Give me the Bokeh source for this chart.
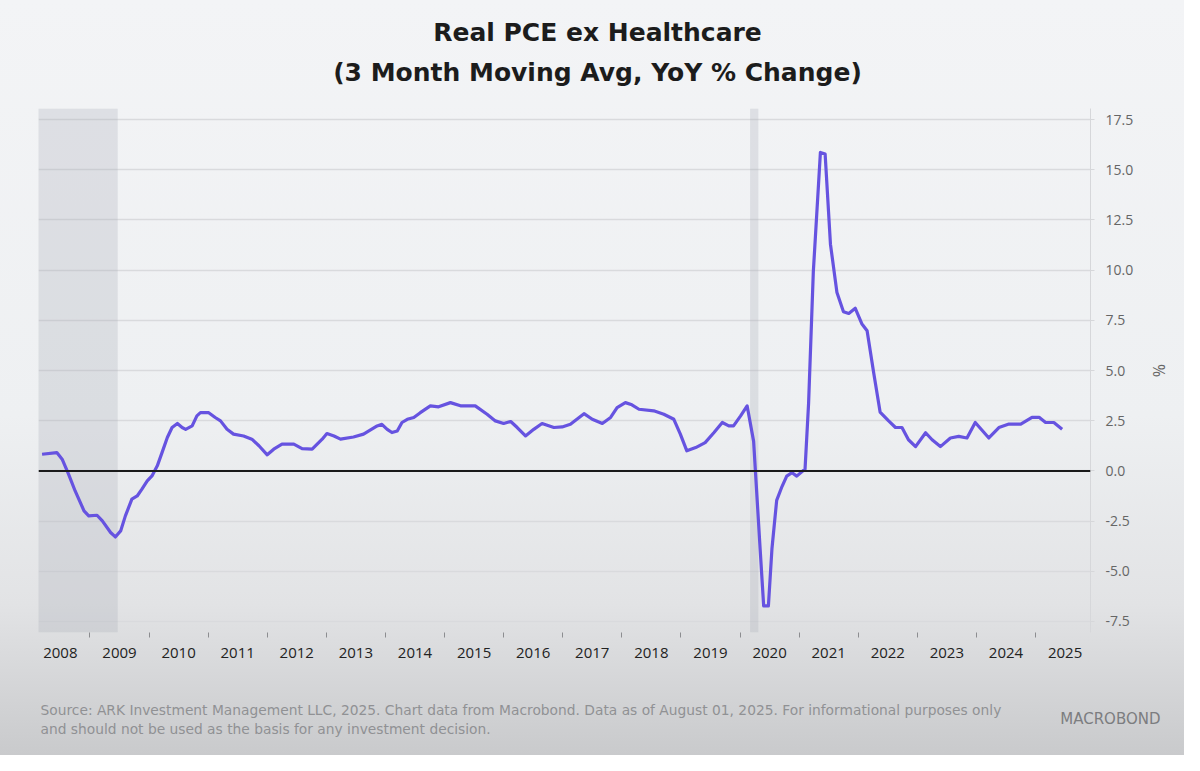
from bokeh.plotting import figure
from bokeh.layouts import column
from bokeh.models import (Range1d, FixedTicker, CustomJSTickFormatter, NumeralTickFormatter,
                          BoxAnnotation, Span, Label)
from bokeh.embed import file_html
from bokeh.resources import INLINE

# Real PCE ex healthcare, 3m moving avg, YoY % (decimal years)
dates = [
    2008.19, 2008.44, 2008.53, 2008.64, 2008.75, 2008.90, 2008.98,
    2009.12, 2009.21, 2009.35, 2009.43, 2009.52, 2009.60, 2009.71, 2009.80, 2009.88, 2009.97,
    2010.05, 2010.14, 2010.22, 2010.31, 2010.39, 2010.48, 2010.56, 2010.62, 2010.73, 2010.81, 2010.87,
    2011.01, 2011.12, 2011.21, 2011.32, 2011.43, 2011.60, 2011.74, 2011.86,
    2012.00, 2012.11, 2012.25, 2012.45, 2012.59, 2012.76, 2012.93,
    2013.01, 2013.13, 2013.24, 2013.46, 2013.63, 2013.72, 2013.86, 2013.94,
    2014.03, 2014.11, 2014.20, 2014.28, 2014.37, 2014.48, 2014.59, 2014.76, 2014.90,
    2015.10, 2015.27, 2015.52, 2015.72, 2015.86,
    2016.00, 2016.12, 2016.23, 2016.37, 2016.51, 2016.65, 2016.85, 2016.99,
    2017.13, 2017.36, 2017.50, 2017.67, 2017.81, 2017.92,
    2018.06, 2018.17, 2018.29, 2018.54, 2018.71, 2018.88, 2018.99,
    2019.10, 2019.25, 2019.41, 2019.56, 2019.70, 2019.81, 2019.89,
    2020.01, 2020.12, 2020.23, 2020.34, 2020.40, 2020.48, 2020.54, 2020.62, 2020.71, 2020.79, 2020.88, 2020.96,
    2021.10, 2021.16, 2021.24, 2021.36, 2021.44, 2021.53, 2021.64, 2021.75, 2021.84, 2021.95,
    2022.06, 2022.15, 2022.26, 2022.37, 2022.51, 2022.63, 2022.74, 2022.85, 2022.97,
    2023.14, 2023.25, 2023.39, 2023.56, 2023.70, 2023.84, 2023.98,
    2024.21, 2024.38, 2024.55, 2024.75, 2024.94,
    2025.06, 2025.17, 2025.31, 2025.45,
]
pce = [
    0.83, 0.91, 0.58, -0.17, -1.00, -1.99, -2.24,
    -2.21, -2.49, -3.07, -3.29, -2.99, -2.24, -1.41, -1.25, -0.91, -0.50,
    -0.25, 0.25, 0.91, 1.66, 2.16, 2.36, 2.16, 2.07, 2.24, 2.74, 2.90,
    2.90, 2.66, 2.49, 2.07, 1.83, 1.74, 1.58, 1.25,
    0.80, 1.08, 1.33, 1.33, 1.11, 1.08, 1.58,
    1.86, 1.74, 1.58, 1.69, 1.83, 1.99, 2.24, 2.32,
    2.07, 1.91, 1.99, 2.41, 2.57, 2.66, 2.90, 3.24, 3.19,
    3.40, 3.24, 3.24, 2.82, 2.49,
    2.36, 2.46, 2.16, 1.74, 2.07, 2.36, 2.16, 2.19,
    2.32, 2.85, 2.57, 2.36, 2.66, 3.15,
    3.40, 3.29, 3.07, 2.99, 2.82, 2.57, 1.83,
    1.00, 1.16, 1.41, 1.91, 2.41, 2.24, 2.24,
    2.74, 3.24, 1.47, -3.88, -6.72, -6.72, -3.88, -1.47, -0.78, -0.26, -0.09, -0.26,
    0.09, 3.36, 9.91, 15.86, 15.78, 11.29, 8.88, 7.93, 7.84, 8.10,
    7.33, 6.98, 4.91, 2.93, 2.50, 2.16, 2.16, 1.55, 1.21,
    1.90, 1.55, 1.21, 1.64, 1.72, 1.64, 2.41,
    1.64, 2.16, 2.33, 2.33, 2.67,
    2.67, 2.41, 2.41, 2.07,
]

# recession shading (start, end)
rec_start = [2007.92, 2020.17]
rec_end = [2009.47, 2020.31]

years = list(range(2008, 2026))
y_ticks = [-7.5, -5.0, -2.5, 0.0, 2.5, 5.0, 7.5, 10.0, 12.5, 15.0, 17.5]

FONT = "Open Sans"
W = 1184


def text_strip(height):
    # a bare figure used as a pixel canvas for header / footer text
    f = figure(width=W, height=height, x_range=Range1d(0, W), y_range=Range1d(0, height),
               x_axis_type=None, y_axis_type=None, toolbar_location=None,
               output_backend="svg", min_border=0)
    f.frame_align = False
    f.grid.grid_line_color = None
    f.outline_line_color = None
    f.border_fill_alpha = 0
    f.background_fill_alpha = 0
    return f


# header
head = text_strip(108)
head.add_layout(Label(x=597, y=76, text="Real PCE ex Healthcare",
                      text_align="center", text_baseline="middle", text_font="DejaVu Sans",
                      text_font_size="25px", text_font_style="bold", text_color="#1c1c1c"))
head.add_layout(Label(x=597, y=36, text="(3 Month Moving Avg, YoY % Change)",
                      text_align="center", text_baseline="middle", text_font="DejaVu Sans",
                      text_font_size="25px", text_font_style="bold", text_color="#1c1c1c"))

# main chart
p = figure(width=W, height=572,
           x_range=Range1d(2008.13, 2025.93), y_range=Range1d(-8.05, 18.05),
           y_axis_location="right", title=None,
           toolbar_location=None, output_backend="svg",
           min_border_left=38, min_border_right=94,
           min_border_top=0, min_border_bottom=48)
p.frame_align = False
p.border_fill_alpha = 0
p.background_fill_alpha = 0
p.outline_line_color = None

p.xgrid.grid_line_color = None
p.ygrid.grid_line_color = "#d9dadd"
p.ygrid.grid_line_width = 1.5

for s, e in zip(rec_start, rec_end):
    p.add_layout(BoxAnnotation(left=s, right=e, fill_color="#a9acb8", fill_alpha=0.28,
                               line_color=None, level="underlay"))

p.add_layout(Span(location=0, dimension="width", line_color="#1a1a1a", line_width=2))

p.line(dates, pce, line_width=3.2, color="#6653e0", line_join="round")

# x axis: labels mid-year, ticks at year boundaries
xa = p.xaxis[0]
xa.ticker = FixedTicker(ticks=[y + 0.5 for y in years], minor_ticks=years[1:])
xa.formatter = CustomJSTickFormatter(code="return String(Math.floor(tick))")
xa.axis_line_color = None
xa.major_tick_out = 0
xa.major_tick_in = 0
xa.minor_tick_out = 5
xa.minor_tick_in = 0
xa.minor_tick_line_color = "#8c8d90"
xa.major_label_standoff = 10
xa.major_label_text_font = FONT
xa.major_label_text_font_size = "15px"
xa.major_label_text_color = "#222222"

# y axis on the right
ya = p.yaxis[0]
ya.ticker = FixedTicker(ticks=y_ticks)
ya.formatter = NumeralTickFormatter(format="0.0")
ya.axis_line_color = "#d6d7da"
ya.major_tick_line_color = "#d6d7da"
ya.major_tick_out = 4
ya.major_tick_in = 0
ya.minor_tick_line_color = None
ya.major_label_standoff = 11
ya.major_label_text_font = FONT
ya.major_label_text_font_size = "14px"
ya.major_label_text_color = "#666666"
ya.axis_label = "%"
ya.axis_label_standoff = 12
ya.axis_label_text_font = FONT
ya.axis_label_text_font_size = "16px"
ya.axis_label_text_font_style = "normal"
ya.axis_label_text_color = "#666666"

# footer
foot = text_strip(75)
foot.add_layout(Label(x=40, y=46,
                      text="Source: ARK Investment Management LLC, 2025. Chart data from Macrobond. "
                           "Data as of August 01, 2025. For informational purposes only",
                      text_align="left", text_baseline="middle", text_font="DejaVu Sans",
                      text_font_size="13.8px", text_color="#909194"))
foot.add_layout(Label(x=40, y=27,
                      text="and should not be used as the basis for any investment decision.",
                      text_align="left", text_baseline="middle", text_font="DejaVu Sans",
                      text_font_size="13.8px", text_color="#909194"))
foot.add_layout(Label(x=1160, y=37, text="MACROBOND",
                      text_align="right", text_baseline="middle", text_font="DejaVu Sans",
                      text_font_size="15px", text_color="#7c7d80"))

page = column(head, p, foot, spacing=0)
page.styles = {"background": "linear-gradient(180deg, #f3f4f6 0%, #eef0f2 55%, "
                             "#e2e3e5 80%, #c9cacc 100%)"}

open("out.html", "w").write(file_html(page, INLINE))
